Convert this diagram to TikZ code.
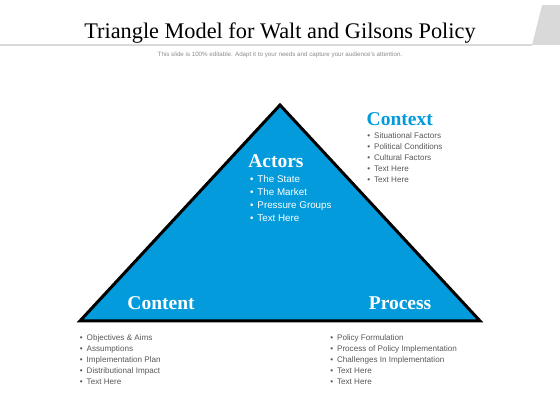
\documentclass[tikz,border=0pt]{standalone}
\usepackage{fontspec}
\setmainfont{Liberation Sans}
\newfontfamily\headfont{Liberation Serif}
\usetikzlibrary{positioning}

\definecolor{triblue}{RGB}{3,155,219}
\definecolor{txtgray}{RGB}{89,89,89}
\definecolor{subgray}{RGB}{140,140,140}
\definecolor{linegray}{RGB}{217,217,217}

\newcommand{\blt}{\textbullet\hspace{4pt}}

\begin{document}
\begin{tikzpicture}[
    head/.style={font=\headfont\bfseries\fontsize{19.5}{22}\selectfont, text=white, inner sep=0pt},
    smalllist/.style={align=left, text=txtgray, font=\fontsize{8.1}{11}\selectfont, inner sep=0pt, anchor=north west},
    biglist/.style={align=left, text=white, font=\fontsize{9.8}{13}\selectfont, inner sep=0pt, anchor=north west},
    tri/.style={draw=black, fill=triblue, line width=3pt, line join=miter}
]

% White Background
\useasboundingbox (0,0) rectangle (19.68,-14.76);
\path [fill=white] (0,0) rectangle (19.68,-14.76);

% ==================== TITLE BAR ====================

\fill[linegray] (18.70,-1.58) -- (19.05,-0.18) -- (19.68,-0.18) -- (19.68,-1.58) -- cycle;
\draw[linegray, line width=1.5pt] (0,-1.58) -- (18.70,-1.58);

\node[anchor=base, inner sep=0pt, font=\headfont\fontsize{22.3}{26}\selectfont] (title) at (9.84,-1.34) {Triangle Model for Walt and Gilsons Policy};
\node[text=subgray, font=\fontsize{6.2}{8}\selectfont, inner sep=0pt] (sub) at (9.84,-1.92) {This slide is 100\% editable. Adapt it to your needs and capture your audience's attention.};

% ==================== TRIANGLE ====================

\draw[tri] (9.84,-3.69) -- (2.81,-11.28) -- (16.87,-11.28) -- cycle;

% Actors (inside top)
\node[head, anchor=west] (actors) at (8.72,-5.66) {Actors};
\node[biglist] (actors_list) at (8.78,-6.14) {\blt The State\\ \blt The Market\\ \blt Pressure Groups\\ \blt Text Here};

% Context (outside right)
\node[head, anchor=west, text=triblue] (context) at (12.88,-4.18) {Context};
\node[smalllist] (context_list) at (12.90,-4.64) {\blt Situational Factors\\ \blt Political Conditions\\ \blt Cultural Factors\\ \blt Text Here\\ \blt Text Here};

% Content and Process (bottom corners)
\node[head] (content) at (5.66,-10.65) {Content};
\node[head] (process) at (14.06,-10.65) {Process};

\node[smalllist] (content_list) at (2.80,-11.74) {\blt Objectives \& Aims\\ \blt Assumptions\\ \blt Implementation Plan\\ \blt Distributional Impact\\ \blt Text Here};
\node[smalllist] (process_list) at (11.60,-11.74) {\blt Policy Formulation\\ \blt Process of Policy Implementation\\ \blt Challenges In Implementation\\ \blt Text Here\\ \blt Text Here};

\end{tikzpicture}
\end{document}
